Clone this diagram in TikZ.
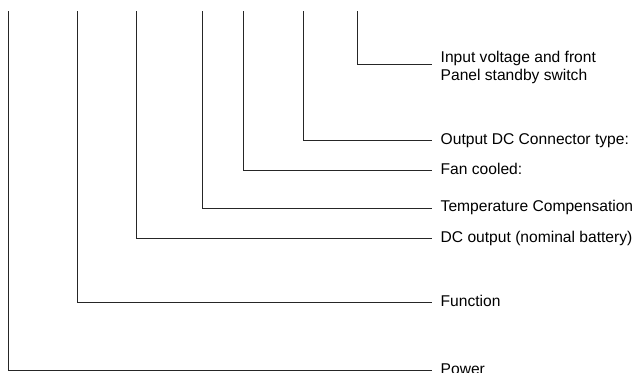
\documentclass[tikz,border=0pt]{standalone}
\usepackage{fontspec}
\setmainfont{Liberation Sans}
\begin{document}
\begin{tikzpicture}[x=1pt,y=-1pt,
  conn/.style={draw=black!85,line width=0.9pt},
  lbl/.style={anchor=base west,inner sep=0pt,font=\fontsize{15.6}{17.5}\selectfont},
  lblm/.style={anchor=north west,inner sep=0pt,align=left,font=\fontsize{15.6}{17.5}\selectfont}]
\useasboundingbox (0,0) rectangle (639,372);
% tops of the leader lines
\coordinate (t1) at (8.5,11);
\coordinate (t2) at (77,11);
\coordinate (t3) at (136.5,11);
\coordinate (t4) at (202,11);
\coordinate (t5) at (243,11);
\coordinate (t6) at (303.5,11);
\coordinate (t7) at (357,11);
% line ends
\coordinate (e1) at (432,370);
\coordinate (e2) at (432,302);
\coordinate (e3) at (432,238);
\coordinate (e4) at (432,208);
\coordinate (e5) at (432,170);
\coordinate (e6) at (432,140);
\coordinate (e7) at (432,64);
% labels
\node[lbl] (l1) at (440.5,374) {Power};
\node[lbl] (l2) at (440.5,306) {Function};
\node[lbl] (l3) at (440.5,242.5) {DC output (nominal battery)};
\node[lbl] (l4) at (440.5,211.5) {Temperature Compensation};
\node[lbl] (l5) at (440.5,174) {Fan cooled:};
\node[lbl] (l6) at (440.5,144) {Output DC Connector type:};
\node[lblm] (l7) at (440.5,51.3) {Input voltage and front\\Panel standby switch};
% connectors
\draw[conn] (t1) |- (e1);
\draw[conn] (t2) |- (e2);
\draw[conn] (t3) |- (e3);
\draw[conn] (t4) |- (e4);
\draw[conn] (t5) |- (e5);
\draw[conn] (t6) |- (e6);
\draw[conn] (t7) |- (e7);
\end{tikzpicture}
\end{document}
